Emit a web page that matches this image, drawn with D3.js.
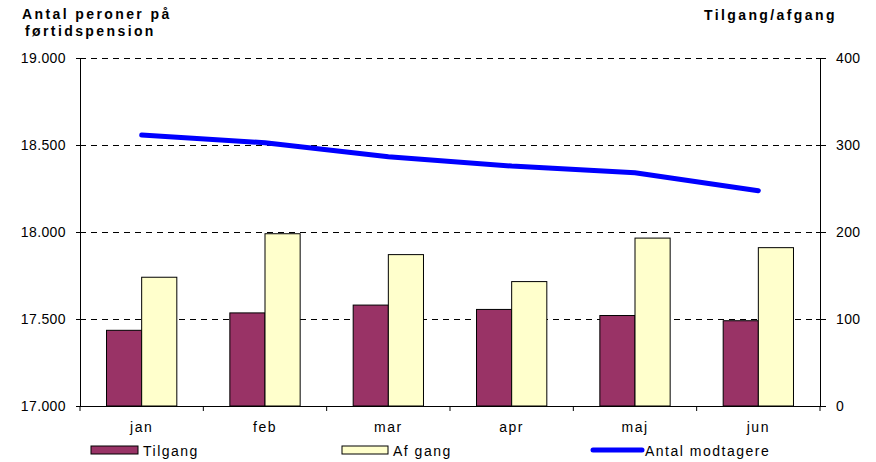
<!DOCTYPE html>
<html><head><meta charset="utf-8">
<script src="https://cdn.jsdelivr.net/npm/d3@7"></script>
<style>body{margin:0;background:#fff}svg{display:block;font-family:"Liberation Sans",Arial,sans-serif}</style>
</head><body><svg id="c" width="876" height="462"></svg>
<script>
const months = ["jan","feb","mar","apr","maj","jun"];
const tilgang = [87, 107, 116, 111, 104, 98];
const afgang = [148, 198, 174, 143, 193, 182];
const modtagere = [18557, 18513, 18433, 18379, 18341, 18237];
const leftTicks = [17000, 17500, 18000, 18500, 19000];
const rightTicks = [0, 100, 200, 300, 400];

const svg = d3.select("#c");
const L = 80, R = 820, T = 58, B = 406;
const x = d3.scaleBand().domain(months).range([L, R]).paddingInner(0.43).paddingOuter(0.215);
const xc = d3.scaleBand().domain(months).range([L, R]);
const yL = d3.scaleLinear().domain([17000, 19000]).range([B, T]);
const yR = d3.scaleLinear().domain([0, 400]).range([B, T]);
const fmtL = d => (d/1000).toFixed(3);

// gridlines
svg.append("g").selectAll("line").data(leftTicks.filter(d => d > 17000)).join("line")
  .attr("x1", L).attr("x2", R).attr("y1", d => yL(d)).attr("y2", d => yL(d))
  .attr("stroke", "#000").attr("stroke-dasharray", "6,5").attr("shape-rendering", "crispEdges");

// bars
const bw = x.bandwidth() / 2;
svg.append("g").selectAll("rect").data(months).join("rect")
  .attr("x", d => x(d)).attr("width", bw)
  .attr("y", (d, i) => yR(tilgang[i])).attr("height", (d, i) => B - yR(tilgang[i]))
  .attr("fill", "#993366").attr("stroke", "#000").attr("stroke-width", 1);
svg.append("g").selectAll("rect").data(months).join("rect")
  .attr("x", d => x(d) + bw).attr("width", bw)
  .attr("y", (d, i) => yR(afgang[i])).attr("height", (d, i) => B - yR(afgang[i]))
  .attr("fill", "#FFFFCC").attr("stroke", "#000").attr("stroke-width", 1);

// axes
const axL = svg.append("g").attr("transform", `translate(${L},0)`)
  .call(d3.axisLeft(yL).tickValues(leftTicks).tickFormat(fmtL).tickSizeInner(4).tickSizeOuter(0).tickPadding(10));
const axR = svg.append("g").attr("transform", `translate(${R},0)`)
  .call(d3.axisRight(yR).tickValues(rightTicks).tickFormat(d3.format("d")).tickSizeInner(6).tickSizeOuter(0).tickPadding(10));
const axB = svg.append("g").attr("transform", `translate(0,${B})`)
  .call(d3.axisBottom(xc).tickValues([]).tickSizeOuter(0));
[axL, axR, axB].forEach(a => {
  a.selectAll("path,line").attr("stroke", "#000");
  a.selectAll("text").attr("font-size", 14).attr("letter-spacing", 0.4).attr("fill", "#000").attr("font-family", "Liberation Sans, Arial, sans-serif");
});
axL.selectAll(".tick line").attr("x1", 4);
axR.selectAll(".tick line").attr("x1", -4);
// category boundary ticks
svg.append("g").selectAll("line").data(d3.range(months.length + 1)).join("line")
  .attr("x1", i => L + i * xc.step()).attr("x2", i => L + i * xc.step())
  .attr("y1", B).attr("y2", B + 5).attr("stroke", "#000");
// category labels
svg.append("g").selectAll("text").data(months).join("text")
  .attr("x", d => xc(d) + xc.bandwidth() / 2).attr("y", B + 26)
  .attr("text-anchor", "middle").attr("font-size", 14).attr("letter-spacing", 1.5).text(d => d);

// line
svg.append("path").datum(modtagere)
  .attr("d", d3.line().x((d, i) => xc(months[i]) + xc.bandwidth() / 2).y(d => yL(d)))
  .attr("fill", "none").attr("stroke", "#0000FF").attr("stroke-width", 5).attr("stroke-linecap", "round");

// titles
const tt = svg.append("g").attr("font-weight", "bold").attr("font-size", 14).attr("letter-spacing", 2.4);
tt.append("text").attr("x", 22).attr("y", 19).text("Antal peroner på");
tt.append("text").attr("x", 25).attr("y", 36).text("førtidspension");
tt.append("text").attr("x", 704).attr("y", 20).text("Tilgang/afgang");

// legend
const lg = svg.append("g").attr("font-size", 14).attr("letter-spacing", 1.5);
lg.append("rect").attr("x", 91).attr("y", 446).attr("width", 47).attr("height", 8).attr("fill", "#993366").attr("stroke", "#000");
lg.append("text").attr("x", 143).attr("y", 456).text("Tilgang");
lg.append("rect").attr("x", 342).attr("y", 446).attr("width", 46).attr("height", 8).attr("fill", "#FFFFCC").attr("stroke", "#000");
lg.append("text").attr("x", 393).attr("y", 456).text("Af gang");
lg.append("line").attr("x1", 593).attr("x2", 642).attr("y1", 450).attr("y2", 450).attr("stroke", "#0000FF").attr("stroke-width", 5).attr("stroke-linecap", "round");
lg.append("text").attr("x", 645).attr("y", 456).text("Antal modtagere");
</script></body></html>
